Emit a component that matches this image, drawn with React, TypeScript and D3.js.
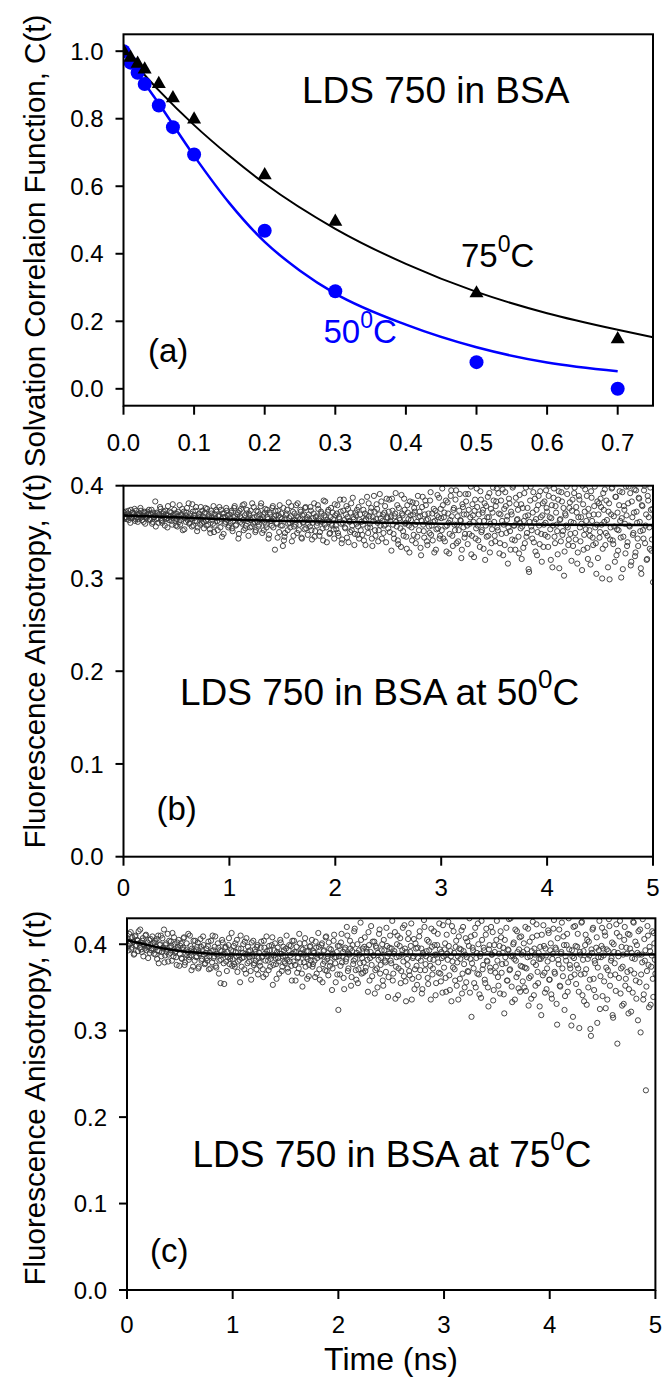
import React from "react";
import * as d3 from "d3";

// ---------------- DATA ----------------
// Panel (a): solvation correlation function C(t)
const timeA50 = [0, 0.01, 0.02, 0.03, 0.05, 0.07, 0.1, 0.2, 0.3, 0.5, 0.7];
const corr50 = [1.0, 0.966, 0.936, 0.903, 0.839, 0.775, 0.694, 0.468, 0.289, 0.079, 0.0];
const timeA75 = [0, 0.01, 0.02, 0.03, 0.05, 0.07, 0.1, 0.2, 0.3, 0.5, 0.7];
const corr75 = [1.0, 0.981, 0.963, 0.946, 0.903, 0.861, 0.798, 0.633, 0.495, 0.283, 0.147];
// fitted curves
const fitTime75 = [0, 0.05, 0.1, 0.15, 0.2, 0.3, 0.4, 0.5, 0.6, 0.7, 0.75];
const fitCorr75 = [1.0, 0.884, 0.781, 0.69, 0.608, 0.474, 0.37, 0.287, 0.224, 0.175, 0.153];
const fitTime50 = [0, 0.02, 0.05, 0.1, 0.15, 0.2, 0.25, 0.3, 0.4, 0.5, 0.6, 0.7];
const fitCorr50 = [1.0, 0.935, 0.845, 0.69, 0.55, 0.435, 0.35, 0.282, 0.19, 0.123, 0.078, 0.052];

// Panels (b), (c): fluorescence anisotropy r(t).
// Series "A" sampled at 0, 0.01, 0.02 ... 5 ns; series "B" at 0.005, 0.015 ... 4.995 ns
const anisoStep = 0.01;
const aniso50A = [
  .369,.365,.372,.366,.370,.363,.368,.374,.365,.371,.367,.362,.373,.369,.364,.370,.376,.366,.368,.361,.372,.367,.365,.370,.374,
  .363,.369,.359,.371,.366,.383,.364,.370,.360,.368,.375,.362,.367,.372,.357,.369,.365,.378,.363,.366,.371,.358,.368,.374,.362,
  .370,.356,.367,.379,.363,.368,.352,.372,.365,.361,.376,.366,.359,.370,.364,.380,.357,.368,.373,.362,.355,.369,.366,.377,.360,
  .367,.354,.371,.362,.375,.358,.366,.349,.370,.363,.378,.357,.365,.372,.352,.368,.361,.374,.345,.366,.370,.359,.376,.363,.355,
  .369,.360,.373,.351,.366,.378,.357,.364,.371,.348,.367,.375,.359,.363,.380,.354,.370,.362,.346,.368,.373,.356,.365,.377,.361,
  .352,.367,.372,.358,.364,.381,.349,.369,.361,.375,.355,.366,.343,.371,.362,.357,.378,.364,.331,.368,.359,.373,.350,.366,.370,
  .357,.376,.345,.364,.370,.352,.382,.360,.367,.340,.372,.356,.363,.379,.349,.366,.358,.374,.344,.368,.361,.353,.377,.363,.347,
  .369,.356,.373,.342,.365,.381,.351,.367,.360,.375,.346,.362,.370,.354,.384,.358,.366,.339,.372,.361,.349,.376,.357,.364,.343,
  .368,.353,.379,.346,.364,.372,.338,.360,.385,.355,.369,.344,.375,.362,.350,.381,.357,.366,.336,.371,.359,.347,.377,.363,.352,
  .383,.358,.341,.370,.364,.388,.349,.367,.355,.376,.335,.362,.372,.346,.380,.360,.352,.391,.365,.343,.369,.357,.378,.339,.366,
  .354,.385,.362,.330,.373,.348,.367,.392,.356,.341,.376,.363,.334,.370,.351,.386,.359,.345,.379,.364,.328,.368,.355,.382,.347,
  .372,.338,.361,.389,.352,.367,.325,.377,.358,.344,.384,.363,.336,.370,.349,.393,.357,.341,.375,.362,.331,.368,.354,.387,.346,
  .365,.397,.343,.371,.356,.329,.382,.360,.348,.389,.367,.335,.376,.352,.395,.358,.340,.373,.363,.322,.380,.355,.344,.391,.369,
  .337,.374,.359,.399,.346,.368,.323,.385,.354,.377,.341,.362,.394,.350,.371,.332,.381,.357,.345,.388,.366,.328,.375,.353,.398,
  .361,.340,.383,.355,.392,.327,.369,.348,.396,.358,.336,.378,.363,.316,.386,.351,.372,.342,.400,.357,.331,.380,.364,.345,.390,
  .354,.321,.376,.362,.338,.398,.349,.368,.307,.384,.356,.343,.393,.361,.329,.374,.350,.389,.337,.366,.318,.381,.358,.347,.395,
  .372,.334,.400,.353,.365,.312,.387,.345,.378,.358,.326,.394,.363,.340,.383,.351,.303,.370,.357,.391,.336,.376,.348,.319,.385,
  .360,.398,.342,.371,.328,.389,.355,.366,.309,.380,.347,.396,.362,.333,.375,.352,.315,.387,.344,.369,.399,.338,.358,.322,.381,
  .350,.377,.300,.392,.361,.336,.384,.346,.372,.299,.355,.397,.341,.367,.318,.388,.353,.330,.379,.362,.301,.393,.345,.374,.327,
  .368,.339,.399,.356,.314,.383,.347,.371,.324,.395,.360,.335,.386,.351,.305,.378,.343,.400,.357,.320,.389,.366,.332,.374,.342,
  .296
];
const aniso50B = [
  .371,.366,.364,.369,.373,.367,.360,.366,.371,.369,.375,.364,.366,.361,.370,.368,.373,.363,.367,.371,.359,.366,.372,.369,.364,
  .370,.374,.361,.366,.368,.356,.371,.365,.369,.377,.363,.360,.370,.366,.373,.364,.355,.368,.372,.367,.362,.380,.365,.370,.357,
  .364,.372,.361,.358,.369,.375,.366,.353,.368,.371,.363,.381,.360,.367,.356,.372,.365,.362,.377,.351,.367,.370,.358,.364,.373,
  .361,.370,.376,.357,.364,.368,.353,.373,.366,.359,.350,.369,.374,.362,.367,.377,.355,.364,.370,.348,.366,.361,.373,.368,.357,
  .365,.371,.354,.362,.376,.367,.358,.369,.343,.373,.361,.365,.379,.352,.368,.357,.374,.364,.370,.355,.363,.381,.359,.366,.350,
  .373,.361,.356,.369,.378,.363,.366,.352,.371,.358,.374,.364,.347,.369,.362,.376,.355,.367,.373,.360,.344,.368,.379,.357,.364,
  .335,.341,.349,.368,.374,.359,.365,.355,.378,.362,.346,.370,.358,.367,.381,.352,.364,.372,.343,.360,.369,.376,.354,.366,.359,
  .363,.377,.352,.360,.370,.345,.366,.357,.379,.364,.350,.372,.361,.341,.368,.383,.355,.363,.374,.348,.366,.359,.371,.353,.380,
  .357,.370,.349,.366,.385,.359,.342,.373,.363,.354,.378,.366,.339,.361,.371,.352,.387,.364,.348,.368,.374,.356,.343,.369,.361,
  .347,.374,.362,.336,.368,.355,.381,.359,.372,.343,.366,.389,.352,.364,.375,.340,.369,.357,.383,.362,.349,.371,.358,.386,.365,
  .372,.350,.366,.386,.358,.343,.370,.361,.379,.337,.365,.354,.390,.368,.346,.374,.360,.332,.371,.357,.383,.363,.341,.369,.376,
  .358,.381,.345,.366,.372,.333,.362,.388,.351,.369,.379,.340,.364,.356,.384,.347,.370,.361,.328,.373,.353,.390,.366,.343,.375,
  .352,.379,.366,.340,.384,.357,.370,.327,.363,.395,.346,.374,.358,.385,.338,.367,.352,.391,.362,.331,.377,.369,.348,.383,.357,
  .391,.348,.366,.326,.380,.361,.373,.343,.397,.357,.369,.334,.385,.352,.374,.362,.320,.378,.366,.346,.392,.359,.338,.371,.384,
  .346,.378,.397,.352,.370,.338,.384,.362,.325,.375,.393,.349,.367,.355,.381,.331,.369,.398,.357,.341,.387,.363,.374,.327,.360,
  .380,.356,.333,.392,.367,.345,.376,.310,.361,.399,.352,.371,.339,.386,.364,.325,.379,.357,.394,.348,.368,.334,.383,.360,.376,
  .345,.389,.366,.320,.379,.357,.397,.338,.371,.351,.385,.311,.364,.393,.347,.376,.329,.368,.399,.355,.342,.382,.361,.373,.335,
  .392,.349,.377,.316,.366,.385,.340,.359,.400,.331,.372,.353,.389,.321,.368,.346,.394,.362,.336,.378,.355,.305,.383,.369,.344,
  .386,.358,.332,.374,.396,.349,.363,.312,.381,.342,.369,.398,.337,.356,.388,.325,.371,.352,.394,.344,.365,.310,.378,.359,.399,
  .335,.381,.357,.392,.318,.366,.349,.396,.328,.372,.343,.387,.361,.311,.379,.352,.395,.338,.369,.321,.384,.355,.398,.330,.375
];
const aniso75A = [
  .405,.398,.412,.401,.394,.408,.403,.389,.410,.399,.404,.415,.396,.402,.391,.407,.400,.395,.411,.397,.384,.405,.399,.393,.409,
  .395,.402,.388,.406,.393,.378,.399,.410,.391,.396,.417,.387,.401,.394,.380,.404,.390,.398,.413,.386,.400,.392,.376,.397,.405,
  .389,.401,.383,.396,.408,.379,.393,.387,.412,.385,.398,.370,.391,.404,.381,.394,.386,.402,.374,.390,.397,.383,.409,.388,.378,
  .395,.381,.403,.386,.372,.392,.410,.384,.397,.375,.389,.401,.366,.393,.382,.405,.388,.354,.396,.380,.391,.399,.377,.386,.413,
  .383,.398,.374,.391,.405,.380,.387,.356,.395,.384,.400,.371,.389,.407,.378,.392,.385,.369,.402,.388,.376,.394,.381,.397,.365,
  .390,.375,.403,.386,.362,.396,.381,.409,.388,.370,.393,.383,.399,.353,.387,.401,.377,.391,.384,.366,.405,.389,.374,.397,.380,
  .386,.410,.372,.393,.380,.398,.358,.389,.404,.376,.391,.367,.385,.412,.379,.395,.351,.388,.401,.374,.392,.383,.363,.397,.381,
  .405,.377,.390,.362,.396,.384,.413,.371,.387,.399,.356,.392,.380,.408,.369,.386,.402,.375,.394,.347,.389,.411,.378,.385,.365,
  .324,.398,.375,.412,.386,.361,.394,.380,.420,.369,.389,.404,.352,.392,.377,.415,.383,.359,.400,.371,.388,.425,.366,.395,.379,
  .408,.373,.391,.345,.399,.384,.421,.363,.387,.403,.370,.396,.350,.382,.417,.376,.393,.358,.405,.381,.368,.398,.339,.389,.410,
  .378,.427,.366,.392,.337,.385,.410,.372,.398,.355,.388,.419,.363,.395,.334,.383,.406,.369,.391,.424,.360,.386,.348,.401,.375,
  .396,.362,.415,.381,.343,.390,.428,.370,.386,.405,.354,.393,.375,.418,.365,.382,.399,.341,.388,.412,.367,.394,.357,.384,.422,
  .373,.401,.345,.389,.426,.364,.392,.334,.380,.415,.371,.397,.352,.386,.409,.360,.394,.343,.420,.377,.388,.356,.403,.368,.430,
  .383,.316,.396,.372,.411,.350,.390,.424,.365,.386,.338,.405,.376,.393,.355,.418,.380,.328,.399,.369,.388,.414,.347,.391,.374,
  .427,.362,.389,.343,.408,.377,.396,.320,.385,.419,.358,.393,.370,.430,.351,.387,.402,.336,.381,.415,.366,.394,.345,.409,.374,
  .391,.350,.420,.372,.385,.329,.403,.363,.392,.426,.341,.388,.376,.410,.355,.383,.397,.318,.386,.422,.367,.395,.348,.380,.413,
  .359,.401,.337,.389,.428,.366,.394,.307,.382,.417,.351,.391,.372,.409,.324,.386,.399,.345,.430,.376,.362,.393,.316,.384,.421,
  .354,.397,.372,.303,.388,.425,.341,.392,.366,.411,.330,.383,.403,.359,.294,.390,.419,.347,.378,.396,.309,.385,.427,.363,.398,
  .340,.387,.414,.326,.394,.370,.429,.352,.381,.402,.315,.391,.365,.423,.285,.386,.409,.343,.397,.374,.331,.420,.360,.389,.412,
  .348,.395,.322,.384,.426,.366,.403,.337,.390,.415,.356,.298,.388,.429,.342,.381,.231,.369,.410,.327,.392,.374,.415,.339,.401,
  .366
];
const aniso75B = [
  .407,.393,.400,.414,.396,.403,.388,.409,.398,.405,.392,.401,.417,.394,.404,.386,.399,.410,.393,.402,.397,.390,.406,.395,.401,
  .389,.404,.397,.383,.410,.392,.400,.386,.407,.395,.379,.399,.391,.412,.388,.396,.403,.381,.393,.408,.390,.385,.402,.394,.375,
  .398,.384,.394,.407,.376,.389,.401,.391,.382,.410,.387,.395,.374,.392,.404,.385,.397,.372,.389,.406,.381,.393,.399,.377,.390,
  .384,.398,.371,.390,.404,.379,.393,.386,.409,.373,.388,.396,.381,.355,.392,.402,.378,.389,.397,.369,.385,.407,.383,.393,.375,
  .392,.377,.401,.386,.368,.395,.382,.410,.374,.390,.385,.403,.366,.388,.397,.380,.393,.359,.386,.404,.378,.391,.371,.399,.384,
  .379,.396,.385,.371,.404,.389,.365,.392,.381,.398,.374,.387,.408,.376,.393,.384,.360,.396,.380,.389,.402,.369,.386,.393,.378,
  .395,.382,.368,.399,.387,.375,.404,.380,.391,.358,.397,.384,.372,.401,.389,.366,.394,.379,.407,.385,.360,.392,.376,.398,.387,
  .374,.392,.381,.403,.366,.388,.397,.359,.386,.401,.377,.393,.370,.409,.383,.364,.395,.379,.388,.372,.404,.385,.356,.391,.398,
  .386,.365,.402,.379,.391,.348,.396,.383,.410,.372,.388,.395,.362,.399,.381,.418,.370,.390,.355,.393,.378,.405,.384,.367,.397,
  .369,.395,.382,.414,.358,.391,.376,.403,.387,.343,.398,.372,.390,.412,.366,.384,.400,.352,.393,.379,.419,.386,.362,.396,.381,
  .395,.358,.389,.414,.374,.400,.341,.386,.407,.369,.393,.380,.422,.357,.391,.376,.413,.364,.398,.336,.384,.406,.371,.395,.353,
  .384,.409,.370,.395,.348,.388,.420,.377,.392,.361,.403,.383,.336,.397,.372,.415,.388,.355,.399,.379,.424,.366,.391,.344,.386,
  .394,.361,.411,.382,.398,.347,.386,.421,.373,.390,.358,.404,.379,.336,.395,.383,.416,.366,.392,.350,.407,.385,.369,.398,.344,
  .409,.378,.393,.355,.419,.384,.366,.400,.342,.389,.427,.371,.396,.359,.411,.381,.350,.394,.373,.420,.388,.335,.399,.367,.405,
  .381,.352,.398,.415,.367,.390,.342,.405,.378,.358,.394,.429,.371,.386,.333,.400,.383,.417,.362,.391,.349,.408,.375,.388,.357,
  .401,.373,.346,.394,.418,.361,.386,.337,.408,.379,.395,.352,.423,.368,.390,.328,.383,.411,.364,.398,.344,.387,.372,.416,.359,
  .393,.342,.383,.418,.368,.396,.331,.407,.377,.352,.389,.425,.363,.399,.340,.381,.412,.356,.394,.372,.306,.386,.420,.365,.398,
  .376,.412,.345,.391,.365,.426,.382,.334,.399,.371,.405,.350,.387,.302,.394,.417,.360,.381,.339,.408,.373,.393,.325,.385,.419,
  .395,.357,.410,.373,.336,.392,.421,.364,.384,.318,.400,.378,.346,.413,.390,.361,.427,.372,.329,.388,.405,.352,.396,.368,.320,
  .411,.370,.390,.344,.425,.383,.358,.399,.312,.388,.417,.365,.379,.336,.406,.393,.351,.421,.376,.397,.330,.387,.360,.413,.382
];
// fitted anisotropy decays
const fitTimeB = [0, 0.5, 1, 1.5, 2, 3, 4, 5];
const fitAnisoB = [0.368, 0.366, 0.3635, 0.362, 0.361, 0.359, 0.358, 0.3575];
const fitTimeC = [0, 0.2, 0.4, 0.6, 0.8, 1, 2, 3, 4, 5];
const fitAnisoC = [0.405, 0.399, 0.394, 0.391, 0.389, 0.388, 0.388, 0.388, 0.388, 0.388];

// tick values
const ticksAx = [0, 0.1, 0.2, 0.3, 0.4, 0.5, 0.6, 0.7];
const ticksAy = [0, 0.2, 0.4, 0.6, 0.8, 1.0];
const ticksTime = [0, 1, 2, 3, 4, 5];
const ticksAniso = [0, 0.1, 0.2, 0.3, 0.4];

// ---------------- LAYOUT ----------------
const W = 663;
const H = 1381;
const FONT = "'Liberation Sans', Arial, Helvetica, sans-serif";
const TICK_FS = 24;

type PanelProps = {
  id: string;
  left: number; right: number; top: number; bottom: number;
  xDomain: [number, number]; yDomain: [number, number];
  xTicks: number[]; yTicks: number[];
  xFmt: (v: number) => string; yFmt: (v: number) => string;
  xLabelBaseline: number;
  children: (x: d3.ScaleLinear<number, number>, y: d3.ScaleLinear<number, number>) => React.ReactNode;
};

function Panel(p: PanelProps) {
  const x = d3.scaleLinear().domain(p.xDomain).range([p.left, p.right]);
  const y = d3.scaleLinear().domain(p.yDomain).range([p.bottom, p.top]);
  return (
    <g>
      <defs>
        <clipPath id={`clip-${p.id}`}>
          <rect x={p.left} y={p.top} width={p.right - p.left} height={p.bottom - p.top} />
        </clipPath>
      </defs>
      <g clipPath={`url(#clip-${p.id})`}>{p.children(x, y)}</g>
      <rect x={p.left} y={p.top} width={p.right - p.left} height={p.bottom - p.top}
        fill="none" stroke="#000" strokeWidth={2} />
      {p.yTicks.map((v) => (
        <g key={"y" + v}>
          <line x1={p.left - 8} x2={p.left} y1={y(v)} y2={y(v)} stroke="#000" strokeWidth={2} />
          <text x={p.left - 20} y={y(v)} dy="0.36em" textAnchor="end" fontSize={TICK_FS} fontFamily={FONT}>
            {p.yFmt(v)}
          </text>
        </g>
      ))}
      {p.xTicks.map((v) => (
        <g key={"x" + v}>
          <line x1={x(v)} x2={x(v)} y1={p.bottom} y2={p.bottom + 9} stroke="#000" strokeWidth={2} />
          <text x={x(v)} y={p.xLabelBaseline} textAnchor="middle" fontSize={TICK_FS} fontFamily={FONT}>
            {p.xFmt(v)}
          </text>
        </g>
      ))}
    </g>
  );
}

function Deg({ num, rest, fs, supFs }: { num: string; rest: string; fs: number; supFs: number }) {
  return (
    <>
      <tspan>{num}</tspan>
      <tspan fontSize={supFs} dy={-15 * fs / 33}>0</tspan>
      <tspan dy={15 * fs / 33}>{rest}</tspan>
    </>
  );
}

function Scatter({ x, y, a, b }: { x: d3.ScaleLinear<number, number>; y: d3.ScaleLinear<number, number>; a: number[]; b: number[] }) {
  const style = { fill: "none", stroke: "#3c3c3c", strokeWidth: 0.95 };
  return (
    <g>
      {a.map((v, i) => (
        <circle key={"a" + i} cx={x(i * anisoStep)} cy={y(v)} r={2.6} style={style} />
      ))}
      {b.map((v, i) => (
        <circle key={"b" + i} cx={x(i * anisoStep + anisoStep / 2)} cy={y(v)} r={2.6} style={style} />
      ))}
    </g>
  );
}

export default function App() {
  const f1 = d3.format(".1f");
  const f0 = d3.format("d");

  return (
    <svg width={W} height={H} style={{ position: "absolute", left: 0, top: 0, background: "#fff" }}
      fontFamily={FONT}>
      {/* Panel (a) */}
      <Panel id="a" left={123.5} right={653} top={34.3} bottom={405.7}
        xDomain={[0, 0.75]} yDomain={[-0.05, 1.05]}
        xTicks={ticksAx} yTicks={ticksAy} xFmt={f1} yFmt={f1} xLabelBaseline={451}>
        {(x, y) => {
          const l75 = d3.line<number>().x((_, i) => x(fitTime75[i])).y((v) => y(v)).curve(d3.curveMonotoneX);
          const l50 = d3.line<number>().x((_, i) => x(fitTime50[i])).y((v) => y(v)).curve(d3.curveMonotoneX);
          const tri = d3.symbol().type(d3.symbolTriangle).size(85)();
          return (
            <g>
              <path d={l75(fitCorr75) || ""} fill="none" stroke="#000" strokeWidth={2} />
              <path d={l50(fitCorr50) || ""} fill="none" stroke="#0000ff" strokeWidth={2.5} />
              {corr50.map((v, i) => (
                <circle key={"c" + i} cx={x(timeA50[i])} cy={y(v)} r={7} fill="#0000ff" />
              ))}
              {corr75.map((v, i) => (
                <path key={"t" + i} d={tri || ""} transform={`translate(${x(timeA75[i])},${y(v)})`} fill="#000" />
              ))}
            </g>
          );
        }}
      </Panel>
      <text x={302} y={103} fontSize={37}>LDS 750 in BSA</text>
      <text x={461} y={267} fontSize={33}><Deg num="75" rest="C" fs={33} supFs={23} /></text>
      <text x={323.5} y={343.3} fontSize={33} fill="#0000ff"><Deg num="50" rest="C" fs={33} supFs={23} /></text>
      <text x={148} y={362} fontSize={33}>(a)</text>
      <text transform="translate(45,241) rotate(-90)" textAnchor="middle" fontSize={29.5}>
        Solvation Correlaion Function, C(t)
      </text>

      {/* Panel (b) */}
      <Panel id="b" left={123.5} right={653} top={485.7} bottom={856.7}
        xDomain={[0, 5]} yDomain={[0, 0.4]}
        xTicks={ticksTime} yTicks={ticksAniso} xFmt={f0} yFmt={f1} xLabelBaseline={896}>
        {(x, y) => {
          const lf = d3.line<number>().x((_, i) => x(fitTimeB[i])).y((v) => y(v)).curve(d3.curveMonotoneX);
          return (
            <g>
              <Scatter x={x} y={y} a={aniso50A} b={aniso50B} />
              <path d={lf(fitAnisoB) || ""} fill="none" stroke="#000" strokeWidth={2.5} />
            </g>
          );
        }}
      </Panel>
      <text x={180} y={705} fontSize={37}>LDS 750 in BSA at <Deg num="50" rest="C" fs={37} supFs={26} /></text>
      <text x={156.5} y={820} fontSize={33}>(b)</text>
      <text transform="translate(45,661) rotate(-90)" textAnchor="middle" fontSize={29.5}>
        Fluorescence Anisotropy, r(t)
      </text>

      {/* Panel (c) */}
      <Panel id="c" left={127} right={655.4} top={918.3} bottom={1290}
        xDomain={[0, 5]} yDomain={[0, 0.43]}
        xTicks={ticksTime} yTicks={ticksAniso} xFmt={f0} yFmt={f1} xLabelBaseline={1333}>
        {(x, y) => {
          const lf = d3.line<number>().x((_, i) => x(fitTimeC[i])).y((v) => y(v)).curve(d3.curveMonotoneX);
          return (
            <g>
              <Scatter x={x} y={y} a={aniso75A} b={aniso75B} />
              <path d={lf(fitAnisoC) || ""} fill="none" stroke="#000" strokeWidth={2.5} />
            </g>
          );
        }}
      </Panel>
      <text x={192.4} y={1166.7} fontSize={37}>LDS 750 in BSA at <Deg num="75" rest="C" fs={37} supFs={26} /></text>
      <text x={150} y={1262} fontSize={33}>(c)</text>
      <text transform="translate(45,1098) rotate(-90)" textAnchor="middle" fontSize={29.5}>
        Fluorescence Anisotropy, r(t)
      </text>
      <text x={391} y={1370} textAnchor="middle" fontSize={32}>Time (ns)</text>
    </svg>
  );
}
